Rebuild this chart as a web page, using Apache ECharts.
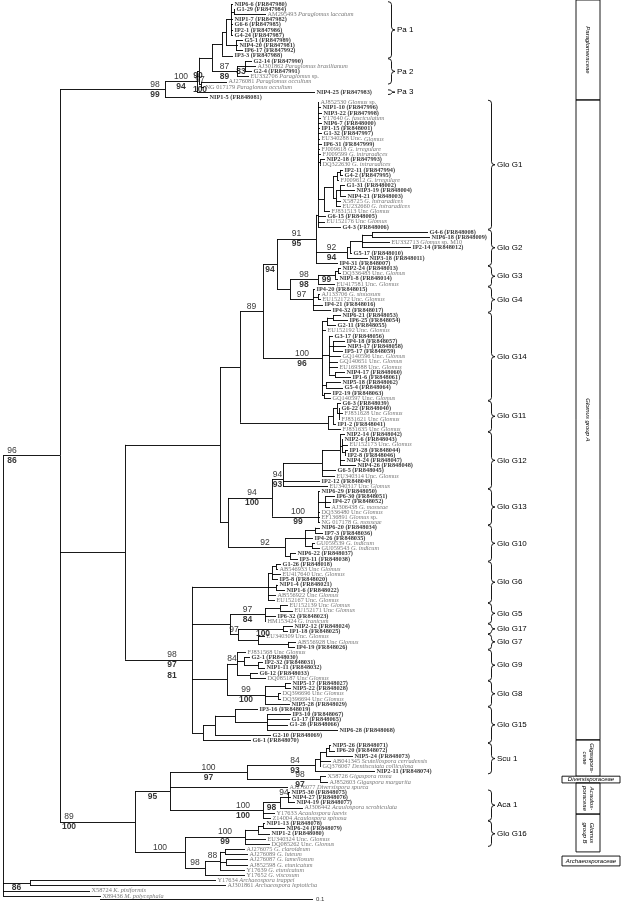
<!DOCTYPE html>
<html><head><meta charset="utf-8">
<script src="https://cdn.jsdelivr.net/npm/echarts/dist/echarts.min.js"></script>
<style>html,body{margin:0;padding:0;background:#fff}#c{width:621px;height:904px}</style>
</head><body><div id="c"></div>
<script>
// ---------------- DATA ----------------
const leafNames = [
'NIP6-6 (FR847980)','G1-29 (FR847984)','AM295493 Paraglomus laccatum','NIP1-7 (FR847982)','G6-6 (FR847985)','IP2-1 (FR847986)','G4-24 (FR847987)','G5-1 (FR847989)','NIP4-20 (FR847981)','IP6-17 (FR847992)',
'IP3-3 (FR847988)','G2-14 (FR847990)','AJ301862 Paraglomus brasilianum','G2-4 (FR847991)','EU332706 Paraglomus sp.','AJ276081 Paraglomus occultum','NG 017179 Paraglomus occultum','NIP4-25 (FR847983)','NIP1-5 (FR848081)','AJ852530 Glomus sp.',
'NIP1-10 (FR847996)','NIP3-22 (FR847998)','Y17640 G. fasciculatum','NIP6-7 (FR848000)','IP1-15 (FR848001)','G1-32 (FR847997)','EU340288 Unc. Glomus','IP6-31 (FR847999)','FJ009618 G. irregulare','FJ009599 G. intraradices',
'NIP2-18 (FR847993)','DQ322630 G. intraradices','IP2-11 (FR847994)','G4-2 (FR847995)','FJ009612 G. irregulare','G1-31 (FR848002)','NIP3-19 (FR848004)','NIP4-21 (FR848003)','X58725 G. intraradices','EU232660 G. intraradices',
'FJ831513 Unc Glomus','G6-15 (FR848005)','EU152176 Unc Glomus','G4-3 (FR848006)','G4-6 (FR848008)','NIP6-18 (FR848009)','EU332713 Glomus sp. M10','IP2-14 (FR848012)','G5-17 (FR848010)','NIP3-18 (FR848011)',
'IP4-31 (FR848007)','NIP2-24 (FR848013)','DQ336483 Unc. Glomus','NIP1-8 (FR848014)','EU417581 Unc. Glomus','IP4-20 (FR848015)','AJ133706 G. sinuosum','EU152172 Unc. Glomus','IP4-21 (FR848016)','IP4-32 (FR848017)',
'NIP6-21 (FR848053)','IP6-25 (FR848054)','G2-11 (FR848055)','EU152192 Unc. Glomus','G3-17 (FR848056)','IP4-18 (FR848057)','NIP3-17 (FR848058)','IP5-17 (FR848059)','GQ140596 Unc. Glomus','GQ140651 Unc. Glomus',
'EU169388 Unc. Glomus','NIP4-17 (FR848060)','IP1-6 (FR848061)','NIP5-18 (FR848062)','G5-4 (FR848064)','IP2-19 (FR848063)','GQ140597 Unc. Glomus','G6-3 (FR848039)','G6-22 (FR848040)','FJ831628 Unc Glomus',
'FJ831621 Unc Glomus','IP1-2 (FR848041)','FJ831635 Unc Glomus','NIP2-14 (FR848042)','NIP2-6 (FR848043)','EU152173 Unc. Glomus','IP1-28 (FR848044)','IP2-8 (FR848046)','NIP4-24 (FR848047)','NIP4-26 (FR848048)',
'G6-5 (FR848045)','EU340314 Unc. Glomus','IP2-12 (FR848049)','EU340317 Unc Glomus','NIP6-29 (FR848050)','IP6-30 (FR848051)','IP4-27 (FR848052)','AJ306438 G. mosseae','DQ336480 Unc Glomus','EF136891 Glomus sp.',
'NG 017178 G. mosseae','NIP6-20 (FR848034)','IP7-3 (FR848036)','IP4-26 (FR848035)','GU059539 G. indicum','GU059543 G. indicum','NIP6-22 (FR848037)','IP3-11 (FR848038)','G1-26 (FR848018)','AB546933 Unc Glomus',
'EU417640 Unc. Glomus','IP5-8 (FR848020)','NIP1-4 (FR848021)','NIP1-6 (FR848022)','AB556922 Unc Glomus','EU152167 Unc. Glomus','EU152139 Unc Glomus','EU152171 Unc Glomus','IP6-32 (FR848023)','HM153424 G. iranicum',
'NIP2-12 (FR848024)','IP1-18 (FR848025)','EU340309 Unc. Glomus','AB556928 Unc Glomus','IP4-19 (FR848026)','FJ831568 Unc Glomus','G2-1 (FR848030)','IP2-32 (FR848031)','NIP1-11 (FR848032)','G6-12 (FR848033)',
'DQ085187 Unc Glomus','NIP5-17 (FR848027)','NIP5-22 (FR848028)','DQ396696 Unc Glomus','DQ396694 Unc Glomus','NIP5-28 (FR848029)','IP3-16 (FR848019)','IP3-10 (FR848067)','G1-17 (FR848065)','G1-28 (FR848066)',
'NIP6-28 (FR848068)','G2-10 (FR848069)','G6-1 (FR848070)','NIP5-26 (FR848071)','IP6-20 (FR848072)','NIP5-24 (FR848073)','AB041345 Scutellospora cerradensis','GQ376067 Dentiscutata colliculosa','NIP2-11 (FR848074)','X58726 Gigaspora rosea',
'AJ852603 Gigaspora margarita','AJ276077 Diversispora spurca','NIP5-30 (FR848075)','NIP4-27 (FR848076)','NIP4-19 (FR848077)','AJ306442 Acaulospora scrobiculata','Y17633 Acaulospora laevis','Z14004 Acaulospora spinosa','NIP1-13 (FR848078)','NIP6-24 (FR848079)',
'NIP1-2 (FR848080)','EU340324 Unc. Glomus','DQ085262 Unc. Glomus','AJ276075 G. claroideum','AJ276089 G. luteum','AJ276087 G. lamellosum','AJ852598 G. etunicatum','Y17639 G. etunicatum','Y17652 G. viscosum','Y17634 Archaeospora trappei',
'AJ301861 Archaeospora leptoticha','X58724 K. pisiformis','X89436 M. polycephala'
];
// distance from root (axis units) of each leaf tip
const leafTipX = [
233,235,266,233,233,233,233,243,238,243,
233,252,256,252,249,227,204,315,208,319,
321,322,321,322,320,322,320,322,320,321,
325,321,343,343,339,345,355,346,341,341,
330,326,325,341,428,430,390,411,352,368,
338,341,341,338,335,315,320,321,323,331,
341,348,336,326,333,345,346,343,341,338,
338,345,351,341,343,331,331,341,340,343,
340,336,341,345,343,348,348,346,345,356,
336,335,320,328,320,335,331,330,320,320,
320,320,323,313,315,320,296,298,281,278,
281,278,278,285,276,275,288,293,276,266,
293,288,265,296,295,246,250,263,265,258,
266,291,291,281,281,290,258,291,290,288,
338,271,251,331,335,353,331,321,375,326,
328,288,290,291,295,303,275,271,265,285,
270,266,270,245,248,248,248,245,245,216,
226,90,101
];
// clades: [x, child, child, ...]; numbers are leaf indices; 'L' = ladder-resolved polytomy
const cladePa1 = [222, [226, [231, 0, [234, 1, 2], 3, 4, 5, 6], [236, 7, 8, 9]], 10];
const cladePa2 = [237, [245, 11, 12, 13], 14];
const cladePara = [165, [197, [199, [212, cladePa1, cladePa2], [201, 15, 16]], 17], 18];
const cladeG1 = ['L', 318, [318, 19, 20, 21, 22, 23, 24, 25, 26, 27, 28, 29, [320, 30, 31],
  [324, [333, [337, [340, 32, 33], 34], [336, [340, 35, 36, 37], 38, 39]], 40]], 41, 42, 43];
const cladeG2 = [347, [350, [362, [372, 44, 45], 46, 47], 48], 49];
const cladeG3 = [318, [335, [338, 51, 52], 53], 54];
const cladeG4 = [313, 55, [318, 56, 57], 58, 59];
const cladeG14 = [322, [327, [333, 60, 61], 62], 63, [329, 64, [333, 65, 66, 67], 68, 69, 70, [335, 71, 72]], [326, 73, 74], [324, 75, 76]];
const cladeG11 = [328, [333, [337, 77, [339, 78, 79, 80]], 81], 82];
const cladeG12 = ['L', 283, [322, [340, 83, [342, 84, 85, [345, 86, 87]], 88, 89], 90, 91], 92, 93];
const cladeG13 = ['L', 318, 94, [325, 95, 96, 97], 98, 99, 100];
const cladeG10 = [285, [305, [315, 101, 102], 103, [312, 104, 105]], [290, 106, 107]];
const cladeG6 = [268, [272, [276, 108, 109], 110, 111], [276, 112, 113], 114, 115];
const cladeG5 = [265, [280, 116, 117], 118, 119];
const cladeG17G7 = [238, [283, 120, 121], [258, 122, [288, 123, 124]]];
const cladeG9 = [237, 125, [244, 126, [258, 127, 128]], [250, 129, 130]];
const cladeG8 = [265, [285, 131, 132], [278, 133, 134], 135];
const cladeG15 = [203, [215, [235, 136, [267, 137, 138, 139, 140]], 141], 142];
const cladeGroupA = [125,
  [220, [240, [263, [277, [316, cladeG1, cladeG2, 50], [290, cladeG3, cladeG4]], cladeG14], cladeG11],
        [228, [272, cladeG12, cladeG13], cladeG10]],
  [192, cladeG6, [230, cladeG5, cladeG17G7], [227, cladeG9, cladeG8], cladeG15]];
const cladeGiga = [247, [315, [320, [326, [329, 143, 144], 145], 146, 147], 148], [320, 149, 150]];
const cladeAcaulo = [263, [280, [288, 152, 153, 154], 155], 156, 157];
const cladeGroupB = [185, [245, [258, [263, 158, 159], 160], 161, 162], [205, [220, [225, 163, 164], [226, 165, 166], 167], 168]];
const cladeArchaeo = [30, 169, 170];
const tree = [3, [60, cladePara, cladeGroupA, [135, [170, cladeGiga, 151, cladeAcaulo], cladeGroupB]], cladeArchaeo, 171, 172];

// support values: [first leaf, last leaf of node, upper, lower (bold), anchor, extra (bold)]
const bootstraps = [
[0,168,'96','86','L'],[0,18,'98','99','R'],[0,17,'100','94'],[0,16,'','90'],[11,14,'87','89'],[11,13,'','83'],[15,16,'97','100'],
[19,50,'91','95'],[44,49,'92','94'],[19,59,'','94'],[51,54,'98','98'],[51,53,'','99'],[55,59,'97',''],[19,76,'89',''],
[60,76,'100','96'],[83,93,'94','93'],[83,100,'94','100'],[94,100,'100','99'],[101,107,'92',''],[116,119,'97','84'],
[120,121,'','100'],[120,124,'97',''],[125,130,'84',''],[131,135,'99','100'],[108,142,'98','97','','81'],
[143,168,'89','100','L'],[143,157,'','95'],[143,148,'84','93'],[149,150,'98','97'],[143,150,'100','97','M'],[152,157,'100','100'],
[152,155,'','98'],[152,154,'94',''],[158,162,'100','99'],[158,168,'100','','M'],[163,168,'98',''],[163,167,'88',''],[169,170,'','86']
];
// clade brackets: [name, first leaf, last leaf]
const groups = [
['Pa 1',0,10],['Pa 2',11,15],['Pa 3',17,17],['Glo G1',19,43],['Glo G2',44,50],['Glo G3',51,54],['Glo G4',55,59],
['Glo G14',60,76],['Glo G11',77,82],['Glo G12',83,93],['Glo G13',94,100],['Glo G10',101,107],['Glo G6',108,115],
['Glo G5',116,119],['Glo G17',120,121],['Glo G7',122,124],['Glo G9',125,130],['Glo G8',131,135],['Glo G15',136,142],
['Scu 1',143,148],['Aca 1',152,157],['Glo G16',158,162]
];
// family column: [name, from (leaf units), to (leaf units), kind]
const families = [
['Paraglomeraceae',-0.77,18.5,'col'],['Glomus group A',18.5,141.9,'col'],['Gigaspora-\nceae',141.9,148.9,'col'],
['Diversisporaceae',148.9,150.2,'box'],['Acaulos-\nporaceae',150.2,156.2,'col'],['Glomus\ngroup B',156.2,163.5,'col'],
['Archaeosporaceae',164.3,166.2,'box']
];
const scaleBar = [100, 313, 172.7, '0.1'];

// ---------------- LAYOUT / STYLE ----------------
const LEAF_PX = 5.186, TOP_PX = 4;
const PA_BRACKET_X = 388, GLO_BRACKET_X = 488;
const COL_X0 = 576, COL_X1 = 600, BOX_X0 = 562, BOX_X1 = 620;

// ---------------- BUILD ----------------
const segs = [], nodes = [];
function walk(n, px) {
  if (typeof n === 'number') {
    segs.push([[px, n], [leafTipX[n], n]]);
    return {y: n, first: n, last: n};
  }
  let k = 0, ladder = false;
  if (n[0] === 'L') { ladder = true; k = 1; }
  const x = n[k];
  const kids = n.slice(k + 1).map(c => walk(c, x));
  let y;
  if (ladder) { y = kids[0].y; for (let i = 1; i < kids.length; i++) y = (y + kids[i].y) / 2; }
  else y = (kids[0].y + kids[kids.length - 1].y) / 2;
  segs.push([[x, kids[0].y], [x, kids[kids.length - 1].y]]);
  if (px != null) segs.push([[px, y], [x, y]]);
  const info = {x, y, px, first: kids[0].first, last: kids[kids.length - 1].last};
  nodes.push(info);
  return info;
}
walk(tree, null);

function richName(name) {
  if (name.indexOf('(FR') >= 0) return '{b|' + name + '}';
  const m = name.match(/^(NG \d+|\S+) (.*)$/);
  let out = '{n|' + m[1] + ' }';
  const rest = m[2];
  const um = rest.match(/^(Unc\.? )(.*)$/);
  if (um) out += '{n|' + um[1] + '}{i|' + um[2] + '}';
  else {
    const sm = rest.match(/^(.*?)( sp\..*)$/);
    if (sm) out += '{i|' + sm[1] + '}{n|' + sm[2] + '}';
    else out += '{i|' + rest + '}';
  }
  return out;
}

const topLabels = [], botLabels = [], extraLabels = [];
bootstraps.forEach(b => {
  const nd = nodes.find(n => n.first === b[0] && n.last === b[1]);
  if (!nd) return;
  const px = nd.px == null ? nd.x - 20 : nd.px;
  let cx = Math.max((px + nd.x) / 2, nd.x - 20);
  if (b[4] === 'L') cx = px + 9;
  else if (b[4] === 'R') cx = nd.x - 10;
  else if (b[4] === 'M') cx = (px + nd.x) / 2;
  if (b[2]) topLabels.push({value: [cx, nd.y], t: b[2]});
  if (b[3]) botLabels.push({value: [cx, nd.y], t: b[3]});
  if (b[5]) extraLabels.push({value: [cx, nd.y], t: b[5]});
});

const serif = 'Liberation Serif', sans = 'Liberation Sans';
const option = {
  animation: false,
  grid: {left: 0, right: 0, top: 0, bottom: 0},
  xAxis: {type: 'value', min: 0, max: 621, show: false},
  yAxis: {type: 'value', inverse: true, min: -TOP_PX / LEAF_PX, max: (904 - TOP_PX) / LEAF_PX, show: false},
  series: [
    {type: 'lines', coordinateSystem: 'cartesian2d', silent: true, z: 2,
     lineStyle: {color: '#000', width: 0.9, opacity: 1},
     data: segs.map(s => ({coords: s}))},
    {type: 'lines', coordinateSystem: 'cartesian2d', silent: true,
     lineStyle: {color: '#000', width: 0.9, opacity: 1},
     data: [{coords: [[scaleBar[0], scaleBar[2]], [scaleBar[1], scaleBar[2]]]}]},
    {type: 'scatter', silent: true, symbolSize: 0, data: [[scaleBar[1], scaleBar[2]]],
     label: {show: true, position: 'right', distance: 3, formatter: scaleBar[3], fontFamily: sans, fontSize: 6, color: '#000'}},
    {type: 'scatter', silent: true, symbolSize: 0, z: 3,
     data: leafNames.map((nm, i) => ({value: [leafTipX[i], i], name: nm})),
     label: {show: true, position: 'right', distance: 1.5,
       formatter: p => richName(p.name),
       rich: {
         b: {fontFamily: serif, fontWeight: 'bold', fontSize: 6.3, color: '#000'},
         n: {fontFamily: serif, fontSize: 6.3, color: '#555'},
         i: {fontFamily: serif, fontStyle: 'italic', fontSize: 6.3, color: '#555'}
       }}},
    {type: 'scatter', silent: true, symbolSize: 0, z: 4, data: topLabels,
     label: {show: true, position: 'top', distance: 0.5, formatter: p => p.data.t,
       fontFamily: sans, fontSize: 8.5, color: '#000'}},
    {type: 'scatter', silent: true, symbolSize: 0, z: 4, data: botLabels,
     label: {show: true, position: 'bottom', distance: 0.5, formatter: p => p.data.t,
       fontFamily: sans, fontWeight: 'bold', fontSize: 8.5, color: '#000'}},
    {type: 'scatter', silent: true, symbolSize: 0, z: 4, data: extraLabels,
     label: {show: true, position: 'bottom', distance: 11, formatter: p => p.data.t,
       fontFamily: sans, fontWeight: 'bold', fontSize: 8.5, color: '#000'}},
    {type: 'custom', silent: true, z: 5,
     data: groups.map((g, i) => [i, g[1], g[2]]),
     renderItem: (params, api) => {
       const g = groups[params.dataIndex];
       const bx = g[0].indexOf('Pa') === 0 ? PA_BRACKET_X : GLO_BRACKET_X;
       const a = api.coord([bx, g[1] - 0.45]), b = api.coord([bx, g[2] + 0.45]);
       const x = a[0], y1 = a[1], y2 = b[1], ym = (y1 + y2) / 2, w = 7, r = Math.min(3, (y2 - y1) / 4);
       const path = `M${x},${y1} Q${x + w / 2},${y1} ${x + w / 2},${y1 + r} L${x + w / 2},${ym - r} Q${x + w / 2},${ym} ${x + w},${ym} Q${x + w / 2},${ym} ${x + w / 2},${ym + r} L${x + w / 2},${y2 - r} Q${x + w / 2},${y2} ${x},${y2}`;
       return {type: 'group', children: [
         {type: 'path', shape: {pathData: path}, style: {stroke: '#000', lineWidth: 0.9, fill: null}},
         {type: 'text', x: x + w + 2, y: ym, style: {text: g[0], font: '8px ' + sans, fill: '#000', align: 'left', verticalAlign: 'middle'}}
       ]};
     }},
    {type: 'custom', silent: true, z: 5,
     data: families.map((f, i) => [i, f[1], f[2]]),
     renderItem: (params, api) => {
       const f = families[params.dataIndex];
       const a = api.coord([0, f[1]]), b = api.coord([0, f[2]]);
       const y1 = a[1], y2 = b[1];
       if (f[3] === 'box') {
         return {type: 'group', children: [
           {type: 'rect', shape: {x: BOX_X0, y: y1, width: BOX_X1 - BOX_X0, height: y2 - y1}, style: {stroke: '#000', lineWidth: 0.9, fill: '#fff'}},
           {type: 'text', x: (BOX_X0 + BOX_X1) / 2, y: (y1 + y2) / 2, style: {text: f[0], font: 'italic 6px ' + sans, fill: '#000', align: 'center', verticalAlign: 'middle'}}
         ]};
       }
       return {type: 'group', children: [
         {type: 'rect', shape: {x: COL_X0, y: y1, width: COL_X1 - COL_X0, height: y2 - y1}, style: {stroke: '#000', lineWidth: 0.9, fill: null}},
         {type: 'text', x: (COL_X0 + COL_X1) / 2, y: (y1 + y2) / 2, rotation: -Math.PI / 2,
          style: {text: f[0], font: 'italic 6px ' + sans, fill: '#000', align: 'center', verticalAlign: 'middle', lineHeight: 7}}
       ]};
     }}
  ]
};
const chart = echarts.init(document.getElementById('c'), null, {renderer: 'canvas'});
chart.setOption(option);
</script></body></html>
